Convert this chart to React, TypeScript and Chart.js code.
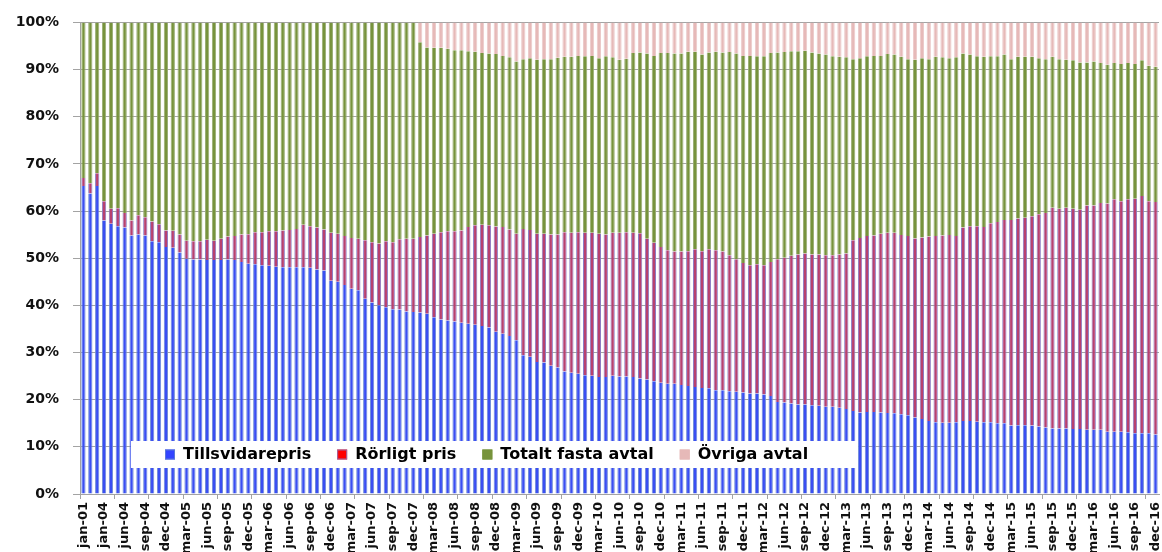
import React, { useEffect, useRef } from "react";
import { Chart, registerables } from "chart.js";

Chart.register(...registerables);

const categories: string[] = [
  "jan-01", "jan-02", "jan-03", "jan-04", "apr-04", "maj-04",
  "jun-04", "jul-04", "aug-04", "sep-04", "okt-04", "nov-04", "dec-04",
  "jan-05", "feb-05", "mar-05", "apr-05", "maj-05", "jun-05", "jul-05", "aug-05", "sep-05", "okt-05", "nov-05", "dec-05",
  "jan-06", "feb-06", "mar-06", "apr-06", "maj-06", "jun-06", "jul-06", "aug-06", "sep-06", "okt-06", "nov-06", "dec-06",
  "jan-07", "feb-07", "mar-07", "apr-07", "maj-07", "jun-07", "jul-07", "aug-07", "sep-07", "okt-07", "nov-07", "dec-07",
  "jan-08", "feb-08", "mar-08", "apr-08", "maj-08", "jun-08", "jul-08", "aug-08", "sep-08", "okt-08", "nov-08", "dec-08",
  "jan-09", "feb-09", "mar-09", "apr-09", "maj-09", "jun-09", "jul-09", "aug-09", "sep-09", "okt-09", "nov-09", "dec-09",
  "jan-10", "feb-10", "mar-10", "apr-10", "maj-10", "jun-10", "jul-10", "aug-10", "sep-10", "okt-10", "nov-10", "dec-10",
  "jan-11", "feb-11", "mar-11", "apr-11", "maj-11", "jun-11", "jul-11", "aug-11", "sep-11", "okt-11", "nov-11", "dec-11",
  "jan-12", "feb-12", "mar-12", "apr-12", "maj-12", "jun-12", "jul-12", "aug-12", "sep-12", "okt-12", "nov-12", "dec-12",
  "jan-13", "feb-13", "mar-13", "apr-13", "maj-13", "jun-13", "jul-13", "aug-13", "sep-13", "okt-13", "nov-13", "dec-13",
  "jan-14", "feb-14", "mar-14", "apr-14", "maj-14", "jun-14", "jul-14", "aug-14", "sep-14", "okt-14", "nov-14", "dec-14",
  "jan-15", "feb-15", "mar-15", "apr-15", "maj-15", "jun-15", "jul-15", "aug-15", "sep-15", "okt-15", "nov-15", "dec-15",
  "jan-16", "feb-16", "mar-16", "apr-16", "maj-16", "jun-16", "jul-16", "aug-16", "sep-16", "okt-16", "nov-16", "dec-16",
];

const tillsvidarepris: number[] = [
  65.3, 63.7, 65.3, 58.0, 57.3, 56.8, 56.5, 54.8, 55.0, 54.8,
  53.6, 53.4, 52.4, 52.2, 51.2, 49.9, 49.7, 49.7, 49.6, 49.6,
  49.6, 49.7, 49.6, 49.2, 48.8, 48.7, 48.5, 48.4, 48.2, 48.1,
  48.1, 48.1, 48.1, 48.0, 47.6, 47.4, 45.2, 45.0, 44.3, 43.5,
  43.2, 41.4, 40.6, 40.0, 39.6, 39.2, 39.1, 38.7, 38.6, 38.5,
  38.2, 37.5, 37.0, 36.8, 36.6, 36.3, 36.1, 35.9, 35.6, 35.3,
  34.4, 34.0, 33.5, 32.6, 29.4, 29.1, 28.0, 27.9, 27.2, 26.8,
  26.0, 25.7, 25.5, 25.2, 25.1, 24.8, 24.8, 25.1,
  24.9, 24.9, 24.8, 24.5, 24.3, 23.9, 23.6, 23.4, 23.4, 23.1,
  22.9, 22.7, 22.5, 22.4, 22.0, 22.0, 21.8, 21.7, 21.5, 21.3,
  21.3, 21.1, 20.8, 19.5, 19.4, 19.2, 19.0, 19.0, 18.8, 18.7,
  18.5, 18.5, 18.3, 18.0, 17.6, 17.3, 17.4, 17.4, 17.3, 17.2,
  17.1, 16.9, 16.7, 16.2, 15.9, 15.5, 15.2, 15.1, 15.1, 15.2,
  15.5, 15.5, 15.3, 15.2, 15.2, 15.0, 15.0, 14.5, 14.6, 14.6,
  14.5, 14.3, 14.1, 13.9, 13.9, 13.9, 13.8, 13.8, 13.6, 13.6,
  13.6, 13.2, 13.2, 13.2, 13.1, 12.9, 12.9, 12.9, 12.6,
];

const rorligtPris: number[] = [
  1.7, 2.2, 2.7, 4.1, 3.2, 3.8, 3.1, 3.2, 4.1, 3.9,
  4.2, 3.8, 3.5, 3.6, 3.8, 3.8, 3.9, 3.9, 4.3, 4.1,
  4.5, 4.9, 5.1, 5.8, 6.3, 6.8, 7.0, 7.3, 7.5, 7.8,
  7.9, 8.1, 9.0, 8.8, 8.9, 8.7, 10.2, 10.2, 10.4, 10.8,
  10.9, 12.4, 12.8, 13.1, 14.0, 14.2, 14.9, 15.4, 15.5, 16.0,
  16.6, 17.7, 18.5, 18.9, 19.1, 19.6, 20.5, 21.1, 21.5, 21.7,
  22.3, 22.6, 22.6, 22.6, 26.8, 26.9, 27.2, 27.3, 27.8, 28.2,
  29.5, 29.7, 30.0, 30.2, 30.3, 30.4, 30.2, 30.3,
  30.5, 30.6, 30.6, 30.8, 29.8, 29.4, 28.8, 28.3, 28.0, 28.3,
  28.6, 29.2, 29.0, 29.5, 29.7, 29.4, 28.8, 28.1, 27.5, 27.2,
  27.4, 27.4, 28.4, 30.3, 30.7, 31.3, 31.8, 32.0, 32.0, 32.1,
  32.1, 32.1, 32.5, 33.0, 36.2, 37.0, 37.3, 37.4, 37.9, 38.2,
  38.3, 38.0, 38.0, 38.0, 38.5, 39.1, 39.5, 39.7, 39.8, 39.5,
  41.0, 41.3, 41.5, 41.4, 42.2, 42.7, 43.1, 43.6, 43.8, 44.0,
  44.4, 45.0, 45.5, 46.8, 46.6, 46.8, 46.7, 46.5, 47.6, 47.6,
  48.1, 48.4, 49.3, 48.9, 49.4, 49.7, 50.3, 49.2, 49.3,
];

const totaltFastaAvtal: number[] = [
  33.0, 34.1, 32.0, 37.9, 39.5, 39.4, 40.4, 42.0, 40.9, 41.3,
  42.2, 42.8, 44.1, 44.2, 45.0, 46.3, 46.4, 46.4, 46.1, 46.3,
  45.9, 45.4, 45.3, 45.0, 44.9, 44.5, 44.5, 44.3, 44.3, 44.1,
  44.0, 43.8, 42.9, 43.2, 43.5, 43.9, 44.6, 44.8, 45.3, 45.7,
  45.9, 46.2, 46.6, 46.9, 46.4, 46.6, 46.0, 45.9, 45.9, 41.3,
  39.9, 39.4, 39.1, 38.7, 38.4, 38.2, 37.3, 36.8, 36.4, 36.4,
  36.6, 36.3, 36.5, 36.5, 36.0, 36.4, 36.9, 37.0, 37.2, 37.5,
  37.2, 37.3, 37.4, 37.4, 37.5, 37.2, 37.8, 37.2,
  36.7, 36.8, 38.1, 38.3, 39.3, 39.6, 41.1, 41.8, 42.0, 42.0,
  42.3, 41.9, 41.7, 41.7, 42.1, 42.2, 43.1, 43.6, 43.9, 44.4,
  44.1, 44.3, 44.3, 43.8, 43.6, 43.4, 43.1, 43.0, 42.8, 42.6,
  42.6, 42.2, 41.9, 41.6, 38.4, 38.1, 38.1, 38.1, 37.7, 37.9,
  37.8, 37.8, 37.5, 37.9, 38.0, 37.6, 38.0, 37.8, 37.5, 37.9,
  36.9, 36.4, 36.0, 36.1, 35.4, 35.1, 35.1, 34.1, 34.3, 34.1,
  33.8, 33.1, 32.6, 32.0, 31.7, 31.4, 31.5, 31.2, 30.3, 30.5,
  29.7, 29.4, 28.9, 29.1, 28.9, 28.6, 28.8, 28.7, 28.7,
];

const ovrigaAvtal: number[] = [
  0, 0, 0, 0, 0, 0, 0, 0, 0, 0,
  0, 0, 0, 0, 0, 0, 0, 0, 0, 0,
  0, 0, 0, 0, 0, 0, 0, 0, 0, 0,
  0, 0, 0, 0, 0, 0, 0, 0, 0, 0,
  0, 0, 0, 0, 0, 0, 0, 0, 0, 4.2,
  5.3, 5.4, 5.4, 5.6, 5.9, 5.9, 6.1, 6.2, 6.5, 6.6,
  6.7, 7.1, 7.4, 8.3, 7.8, 7.6, 7.9, 7.8, 7.8, 7.5,
  7.3, 7.3, 7.1, 7.2, 7.1, 7.6, 7.2, 7.4,
  7.9, 7.7, 6.5, 6.4, 6.6, 7.1, 6.5, 6.5, 6.6, 6.6,
  6.2, 6.2, 6.8, 6.4, 6.2, 6.4, 6.3, 6.6, 7.1, 7.1,
  7.2, 7.2, 6.5, 6.4, 6.3, 6.1, 6.1, 6.0, 6.4, 6.6,
  6.8, 7.2, 7.3, 7.4, 7.8, 7.6, 7.2, 7.1, 7.1, 6.7,
  6.8, 7.3, 7.8, 7.9, 7.6, 7.8, 7.3, 7.4, 7.6, 7.4,
  6.6, 6.8, 7.2, 7.3, 7.2, 7.2, 6.8, 7.8, 7.3, 7.3,
  7.3, 7.6, 7.8, 7.3, 7.8, 7.9, 8.0, 8.5, 8.5, 8.3,
  8.6, 9.0, 8.6, 8.8, 8.6, 8.8, 8.0, 9.2, 9.4,
];

const seriesNames: string[] = ["Tillsvidarepris", "Rörligt pris", "Totalt fasta avtal", "Övriga avtal"];
const yTickValues: number[] = [0, 10, 20, 30, 40, 50, 60, 70, 80, 90, 100];

const FONT = "'DejaVu Sans', Verdana, sans-serif";
const GRID = "#a3a3a3";

const insideLegend = {
  id: "insideLegend",
  afterDatasetsDraw(chart: any) {
    const { ctx, chartArea } = chart;
    const left = chartArea.left + 51;
    const top = chartArea.bottom - 53;
    const w = 727;
    const h = 27;
    ctx.save();
    ctx.fillStyle = "#ffffff";
    ctx.fillRect(left, top, w, h);
    ctx.font = `bold 16px ${FONT}`;
    ctx.textBaseline = "middle";
    ctx.textAlign = "left";
    const cy = top + h / 2 + 0.5;
    let x = left + 34;
    chart.data.datasets.forEach((ds: any) => {
      ctx.fillStyle = ds.legendFill;
      ctx.fillRect(x, cy - 5.5, 10, 10);
      ctx.strokeStyle = ds.legendStroke;
      ctx.lineWidth = 1;
      ctx.strokeRect(x + 0.5, cy - 5, 9, 9);
      x += 18;
      ctx.fillStyle = "#000000";
      ctx.fillText(ds.label, x, cy);
      x += ctx.measureText(ds.label).width + 26;
    });
    ctx.restore();
  },
};

export default function App() {
  const ref = useRef<HTMLCanvasElement | null>(null);

  useEffect(() => {
    if (!ref.current) return;
    const side = { left: 1, right: 1, top: 0, bottom: 0 };
    const chart = new Chart(ref.current, {
      type: "bar",
      data: {
        labels: categories,
        datasets: [
          {
            label: seriesNames[0],
            data: tillsvidarepris,
            backgroundColor: "#3a4ef2",
            borderColor: "#6f8cd9",
            borderWidth: side,
            borderSkipped: false,
            legendFill: "#3344ff",
            legendStroke: "#5a78d8",
          } as any,
          {
            label: seriesNames[1],
            data: rorligtPris,
            backgroundColor: "#b8406f",
            borderColor: "#8c7cc4",
            borderWidth: side,
            borderSkipped: false,
            legendFill: "#ff0000",
            legendStroke: "#9a6aa8",
          } as any,
          {
            label: seriesNames[2],
            data: totaltFastaAvtal,
            backgroundColor: "#77933c",
            borderColor: "#9aae74",
            borderWidth: side,
            borderSkipped: false,
            legendFill: "#77933c",
            legendStroke: "#77933c",
          } as any,
          {
            label: seriesNames[3],
            data: ovrigaAvtal,
            backgroundColor: "#e6b9b8",
            borderColor: "#ebcaca",
            borderWidth: side,
            borderSkipped: false,
            legendFill: "#e6b9b8",
            legendStroke: "#e6b9b8",
          } as any,
        ],
      },
      options: {
        responsive: false,
        maintainAspectRatio: false,
        animation: false,
        layout: { padding: { top: 21, right: 3, left: 0, bottom: 0 } },
        datasets: { bar: { categoryPercentage: 1, barPercentage: 0.62 } },
        plugins: {
          legend: { display: false },
          tooltip: { enabled: false },
        },
        scales: {
          x: {
            stacked: true,
            offset: true,
            afterFit: (scale: any) => {
              scale.height = 58;
              scale.paddingLeft = 0;
              scale.paddingRight = 0;
            },
            border: { display: true, color: GRID, width: 1 },
            grid: {
              offset: true,
              drawOnChartArea: false,
              drawTicks: true,
              tickLength: 5,
              color: (c: any) => (c.index % 5 === 0 ? GRID : "rgba(0,0,0,0)"),
            },
            ticks: {
              autoSkip: false,
              minRotation: 90,
              maxRotation: 90,
              padding: 3,
              color: "#111111",
              font: { family: FONT, size: 13, weight: "bold" },
              callback: (_v: any, i: number) => (i % 3 === 0 ? categories[i] : ""),
            },
          },
          y: {
            stacked: true,
            min: 0,
            max: 100,
            afterFit: (scale: any) => {
              scale.width = 80;
            },
            afterBuildTicks: (scale: any) => {
              scale.ticks = yTickValues.map((v) => ({ value: v }));
            },
            border: { display: true, color: GRID, width: 1 },
            grid: {
              color: GRID,
              lineWidth: 1,
              drawTicks: true,
              tickLength: 7,
            },
            ticks: {
              padding: 14,
              color: "#111111",
              font: { family: FONT, size: 14, weight: "bold" },
              callback: (v: any) => `${v}%`,
            },
          },
        },
      },
      plugins: [insideLegend],
    });
    return () => chart.destroy();
  }, []);

  return (
    <div
      style={{
        position: "fixed",
        left: 0,
        top: 0,
        width: 1162,
        height: 552,
        overflow: "hidden",
        background: "#ffffff",
      }}
    >
      <canvas ref={ref} width={1162} height={552} style={{ display: "block", width: 1162, height: 552 }} />
    </div>
  );
}
